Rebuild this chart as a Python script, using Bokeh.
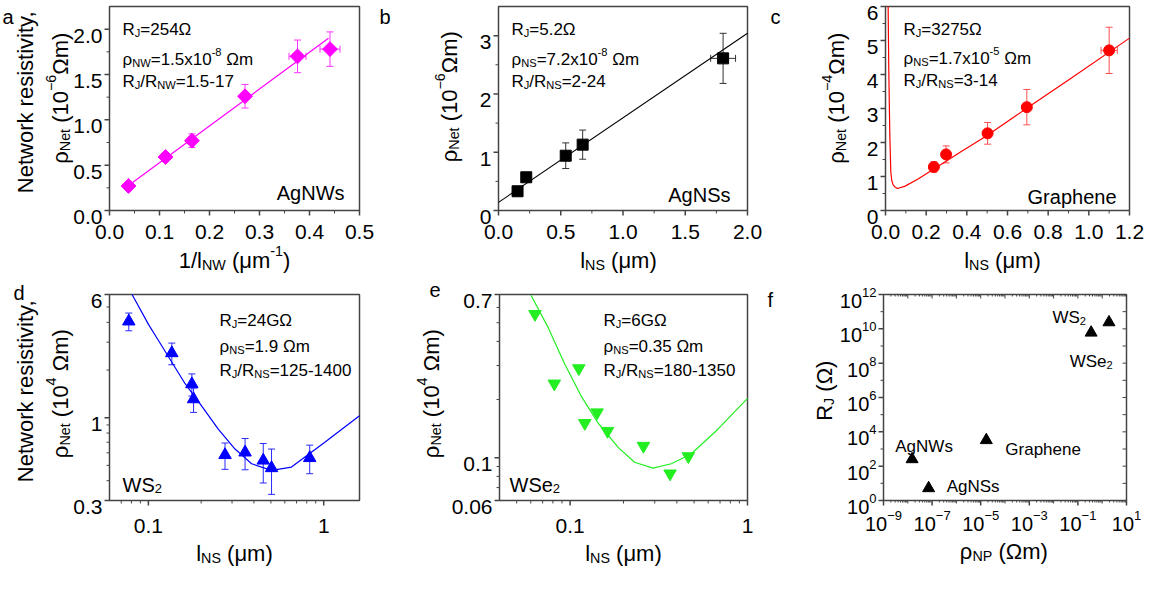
import math
from bokeh.plotting import figure
from bokeh.models import Label, Whisker, TeeHead, ColumnDataSource, Range1d
from bokeh.layouts import row, column
from bokeh.embed import file_html
from bokeh.resources import INLINE

FONT = "Liberation Sans"
AX = "#444444"

# ---------------- data ----------------
# (a) AgNWs
a_x = [0.038, 0.112, 0.165, 0.271, 0.376, 0.441]
a_y = [0.27, 0.59, 0.77, 1.26, 1.70, 1.78]
a_yerr = [0.02, 0.05, 0.075, 0.13, 0.18, 0.19]
a_xerr = [0.0, 0.0, 0.0, 0.005, 0.017, 0.02]
a_fit_x = [0.038, 0.438]
a_fit_y = [0.275, 1.90]

# (b) AgNSs
b_x = [0.153, 0.223, 0.54, 0.676, 1.804]
b_y = [0.33, 0.57, 0.94, 1.13, 2.61]
b_yerr = [0.03, 0.05, 0.22, 0.25, 0.43]
b_xerr = [0.0, 0.0, 0.0, 0.0, 0.1]
b_fit_x = [0.0, 2.0]
b_fit_y = [0.139, 3.04]

# (c) Graphene
c_x = [0.238, 0.298, 0.502, 0.695, 1.10]
c_y = [1.28, 1.65, 2.27, 3.04, 4.71]
c_yerr = [0.15, 0.25, 0.32, 0.52, 0.68]
c_xerr = [0.0, 0.0, 0.0, 0.0, 0.04]
c_fit_x = [0.013, 0.016, 0.021, 0.026, 0.031, 0.037, 0.045, 0.058, 0.094, 0.158,
           0.238, 0.367, 0.496, 0.7, 0.9, 1.2]
c_fit_y = [6.0, 4.19, 2.29, 1.14, 0.874, 0.76, 0.70, 0.646, 0.71, 0.92,
           1.22, 1.71, 2.19, 3.03, 3.84, 5.07]

# (d) WS2
d_x = [0.0773, 0.136, 0.177, 0.181, 0.2735, 0.356, 0.452, 0.504, 0.832]
d_y = [4.06, 2.56, 1.63, 1.31, 0.582, 0.604, 0.537, 0.481, 0.557]
d_yerr = [0.52, 0.40, 0.26, 0.23, 0.11, 0.135, 0.15, 0.153, 0.114]
d_fit_x = [0.0807, 0.1003, 0.1146, 0.162, 0.202, 0.251, 0.312, 0.388, 0.504, 0.655, 1.01, 1.6]
d_fit_y = [6.0, 3.87, 3.05, 1.64, 1.18, 0.843, 0.634, 0.512, 0.465, 0.488, 0.697, 1.03]

# (e) WSe2
e_x = [0.0634, 0.0815, 0.112, 0.121, 0.142, 0.1625, 0.259, 0.366, 0.464]
e_y = [0.554, 0.2417, 0.290, 0.151, 0.1714, 0.1374, 0.115, 0.0827, 0.1016]
e_fit_x = [0.0602, 0.0754, 0.0934, 0.116, 0.144, 0.1865, 0.231, 0.293, 0.372, 0.481, 0.679, 1.0]
e_fit_y = [0.694, 0.470, 0.305, 0.207, 0.151, 0.113, 0.0947, 0.0883, 0.093, 0.1045, 0.140, 0.203]

# (f) summary
f_names = ["AgNWs", "AgNSs", "Graphene", "WSe2", "WS2"]
f_rho = [1.5e-8, 7.2e-8, 1.7e-5, 0.35, 1.9]
f_rj = [254, 5.2, 3275, 6e9, 24e9]

# ---------------- ticks ----------------
a_xt = [0, 0.1, 0.2, 0.3, 0.4, 0.5]
a_xt_lab = ["0.0", "0.1", "0.2", "0.3", "0.4", "0.5"]
a_xm = [0.05, 0.15, 0.25, 0.35, 0.45]
a_yt = [0, 0.5, 1.0, 1.5, 2.0]
a_yt_lab = ["0.0", "0.5", "1.0", "1.5", "2.0"]
a_ym = [0.25, 0.75, 1.25, 1.75]

b_xt = [0, 0.5, 1.0, 1.5, 2.0]
b_xt_lab = ["0.0", "0.5", "1.0", "1.5", "2.0"]
b_xm = [0.25, 0.75, 1.25, 1.75]
b_yt = [0, 1, 2, 3]
b_yt_lab = ["0", "1", "2", "3"]
b_ym = [0.5, 1.5, 2.5]

c_xt = [0, 0.2, 0.4, 0.6, 0.8, 1.0, 1.2]
c_xt_lab = ["0.0", "0.2", "0.4", "0.6", "0.8", "1.0", "1.2"]
c_xm = [0.1, 0.3, 0.5, 0.7, 0.9, 1.1]
c_yt = [0, 1, 2, 3, 4, 5, 6]
c_yt_lab = ["0", "1", "2", "3", "4", "5", "6"]
c_ym = [0.5, 1.5, 2.5, 3.5, 4.5, 5.5]

d_xt = [0.1, 1]
d_xt_lab = ["0.1", "1"]
d_xm = [0.07, 0.08, 0.09, 0.2, 0.3, 0.4, 0.5, 0.6, 0.7, 0.8, 0.9]
d_yt = [0.3, 1, 6]
d_yt_lab = ["0.3", "1", "6"]
d_ym = [0.4, 0.5, 0.6, 0.7, 0.8, 0.9, 2, 3, 4, 5]

e_xt = [0.1, 1]
e_xt_lab = ["0.1", "1"]
e_xm = [0.05, 0.06, 0.07, 0.08, 0.09, 0.2, 0.3, 0.4, 0.5, 0.6, 0.7, 0.8, 0.9]
e_yt = [0.06, 0.1, 0.7]
e_yt_lab = ["0.06", "0.1", "0.7"]
e_ym = [0.07, 0.08, 0.09, 0.2, 0.3, 0.4, 0.5, 0.6]

f_xt_exp = [-9, -7, -5, -3, -1, 1]
f_xdec_exp = [-8, -6, -4, -2, 0]
f_yt_exp = [0, 2, 4, 6, 8, 10, 12]
f_ydec_exp = [1, 3, 5, 7, 9, 11]

# ---------------- helpers ----------------
CW = {' ': 278, '(': 333, ')': 333, ',': 278, '-': 333, '.': 278, '/': 278, '=': 584,
      '\u2212': 584, 'x': 500, 'A': 667, 'G': 778, 'J': 500, 'N': 722, 'P': 667, 'R': 722,
      'S': 667, 'W': 944, 'a': 556, 'b': 556, 'c': 500, 'd': 556, 'e': 556, 'f': 278,
      'g': 556, 'h': 556, 'i': 222, 'k': 500, 'l': 222, 'm': 833, 'n': 556, 'o': 556,
      'p': 556, 'r': 333, 's': 500, 't': 278, 'v': 500, 'w': 722, 'y': 500,
      '\u03c1': 577, '\u03a9': 768, '\u03bc': 577}
for _d in "0123456789":
    CW[_d] = 556

SC = 0.65


def tw(s, size):
    return sum(CW.get(ch, 556) for ch in s) * size / 1000.0


def rich(p, x, y, parts, size, color="black", angle=0.0, align="left", dx=0.0, dy=0.0):
    sizes = [size * SC if m != "n" else size for _, m in parts]
    ws = [tw(t, s) for (t, _), s in zip(parts, sizes)]
    total = sum(ws)
    pos = {"left": 0.0, "center": -total / 2.0, "right": -total}[align]
    for (t, m), w, fs in zip(parts, ws, sizes):
        sh = {"n": 0.0, "sub": -0.2 * size, "sup": 0.42 * size}[m]
        lead = len(t) - len(t.lstrip(" "))
        txt = t.strip(" ")
        off = pos + tw(" " * lead, fs)
        if angle == 0:
            xo, yo = dx + off, dy + sh
        else:
            xo, yo = dx - sh, dy + off
        if txt:
            p.add_layout(Label(x=x, y=y, x_offset=xo, y_offset=yo, text=txt, angle=angle,
                               text_font=FONT, text_font_size=f"{fs:.1f}px", text_color=color,
                               text_align="left", text_baseline="alphabetic"))
        pos += w


class G:
    pass


def panel(W, H, L, T, fw, fh, xr, yr, xlog=False, ylog=False):
    def ext(a, b, lo_px, span_px, hi_px, log):
        if log:
            a, b = math.log10(a), math.log10(b)
        k = (b - a) / span_px
        s, e = a - lo_px * k, b + hi_px * k
        if log:
            return 10 ** s, 10 ** e, k
        return s, e, k

    xs, xe, kx = ext(xr[0], xr[1], L, fw, W - L - fw, xlog)
    ys, ye, ky = ext(yr[0], yr[1], H - T - fh, fh, T, ylog)
    p = figure(width=W, height=H, x_range=Range1d(xs, xe), y_range=Range1d(ys, ye),
               x_axis_type="log" if xlog else "linear",
               y_axis_type="log" if ylog else "linear",
               x_axis_location=None, y_axis_location=None,
               output_backend="svg", toolbar_location=None, min_border=0)
    p.grid.visible = False
    p.outline_line_color = None
    p.background_fill_color = "white"
    p.border_fill_color = "white"
    g = G()
    g.p, g.x0, g.x1, g.y0, g.y1 = p, xr[0], xr[1], yr[0], yr[1]
    g.xlog, g.ylog, g.kx, g.ky, g.fw = xlog, ylog, kx, ky, fw
    p.quad(left=[xr[0]], right=[xr[1]], bottom=[yr[0]], top=[yr[1]],
           fill_color=None, line_color=AX, line_width=1.5)
    return g


def shx(g, x, px):
    return x * 10 ** (px * g.kx) if g.xlog else x + px * g.kx


def shy(g, y, px):
    return y * 10 ** (px * g.ky) if g.ylog else y + px * g.ky


def xticks(g, vals, length, where="bottom", inward=False, lw=1.5):
    if not vals:
        return
    base = g.y0 if where == "bottom" else g.y1
    d = -length if where == "bottom" else length
    if inward:
        d = -d
    end = shy(g, base, d)
    n = len(vals)
    g.p.segment(x0=vals, y0=[base] * n, x1=vals, y1=[end] * n, line_color=AX, line_width=lw)


def yticks(g, vals, length, where="left", inward=False, lw=1.5):
    if not vals:
        return
    base = g.x0 if where == "left" else g.x1
    d = -length if where == "left" else length
    if inward:
        d = -d
    end = shx(g, base, d)
    n = len(vals)
    g.p.segment(x0=[base] * n, y0=vals, x1=[end] * n, y1=vals, line_color=AX, line_width=lw)


def axes(g, xt, xlab, xm, yt, ylab, ym, xdy=-21.0, ydy=-6.5, size=21):
    xticks(g, xt, 5)
    xticks(g, xm, 3, lw=1)
    yticks(g, yt, 5)
    yticks(g, ym, 3, lw=1)
    for t, lab in zip(xt, xlab):
        parts = lab if isinstance(lab, list) else [(lab, "n")]
        rich(g.p, t, g.y0, parts, size, align="center", dy=xdy)
    for t, lab in zip(yt, ylab):
        parts = lab if isinstance(lab, list) else [(lab, "n")]
        rich(g.p, g.x0, t, parts, size, align="right", dx=-7, dy=ydy)


def errbars(p, xs, ys, errs, color, dim="height"):
    idx = [i for i, e in enumerate(errs) if e > 0]
    if dim == "height":
        base = [xs[i] for i in idx]
        lo = [ys[i] - errs[i] for i in idx]
        up = [ys[i] + errs[i] for i in idx]
    else:
        base = [ys[i] for i in idx]
        lo = [xs[i] - errs[i] for i in idx]
        up = [xs[i] + errs[i] for i in idx]
    src = ColumnDataSource(dict(base=base, lo=lo, up=up))
    w = Whisker(source=src, base="base", lower="lo", upper="up", dimension=dim,
                line_color=color, line_width=1,
                lower_head=TeeHead(size=7, line_color=color, line_width=1),
                upper_head=TeeHead(size=7, line_color=color, line_width=1))
    p.add_layout(w)


def sub_parts(sym, sub, rest):
    return [(sym, "n"), (sub, "sub"), (rest, "n")]


MAG, MAG_E = "#FF00FF", "#FF33FF"
RED, RED_E = "#FF0000", "#FF5050"
BLUE, BLUE_E = "#0000FF", "#2A2AFF"
GREEN = "#22EE22"
BLK_E = "#333333"
PI2 = math.pi / 2

NETRES = [("Network resistivity,", "n")]
RHO6 = [("\u03c1", "n"), ("Net", "sub"), (" (10", "n"), ("\u22126", "sup"), ("\u03a9m)", "n")]
RHO4 = [("\u03c1", "n"), ("Net", "sub"), (" (10", "n"), ("\u22124", "sup"), ("\u03a9m)", "n")]
RHO4b = [("\u03c1", "n"), ("Net", "sub"), (" (10", "n"), ("4", "sup"), (" \u03a9m)", "n")]
LNS = [("l", "n"), ("NS", "sub"), (" (\u03bcm)", "n")]

TOP_H, BOT_H = 274, 294
TOP_T, TOP_FH = 6, 204
BOT_T, BOT_FH = 20, 206
TOP_XL, BOT_XL = -50, -53

# ---------------- (a) ----------------
ga = panel(377, TOP_H, 109, TOP_T, 250, TOP_FH, (0, 0.5), (0, 2.25))
fa = ga.p
axes(ga, a_xt, a_xt_lab, a_xm, a_yt, a_yt_lab, a_ym)
fa.line(a_fit_x, a_fit_y, line_color=MAG, line_width=1.2)
errbars(fa, a_x, a_y, a_yerr, MAG_E, "height")
errbars(fa, a_x, a_y, a_xerr, MAG_E, "width")
fa.scatter(a_x, a_y, marker="square", angle=math.pi / 4, size=10.5, fill_color=MAG, line_color=MAG)
rich(fa, 0, 2.25, [("a", "n")], 20, dx=-107, dy=-10)
rich(fa, 0, 2.25, sub_parts("R", "J", "=254\u03a9"), 17, dx=13, dy=-23)
rich(fa, 0, 2.25, [("\u03c1", "n"), ("NW", "sub"), ("=1.5x10", "n"), ("-8", "sup"), (" \u03a9m", "n")], 17, dx=13, dy=-53)
rich(fa, 0, 2.25, [("R", "n"), ("J", "sub"), ("/R", "n"), ("NW", "sub"), ("=1.5-17", "n")], 17, dx=13, dy=-75)
rich(fa, 0.5, 0, [("AgNWs", "n")], 20, align="right", dx=-15, dy=18)
rich(fa, 0, 0, NETRES, 22, angle=PI2, align="center", dx=-84, dy=109)
rich(fa, 0, 0, RHO6, 22, angle=PI2, align="center", dx=-49, dy=112.5)
rich(fa, 0, 0, [("1/l", "n"), ("NW", "sub"), (" (\u03bcm", "n"), ("-1", "sup"), (")", "n")], 22,
     align="center", dx=ga.fw / 2, dy=TOP_XL)

# ---------------- (b) ----------------
gb = panel(387, TOP_H, 121, TOP_T, 249, TOP_FH, (0, 2.0), (0, 3.5))
fb = gb.p
axes(gb, b_xt, b_xt_lab, b_xm, b_yt, b_yt_lab, b_ym)
fb.line(b_fit_x, b_fit_y, line_color="black", line_width=1.1)
errbars(fb, b_x, b_y, b_yerr, BLK_E, "height")
errbars(fb, b_x, b_y, b_xerr, BLK_E, "width")
fb.scatter(b_x, b_y, marker="square", size=11, fill_color="black", line_color="black")
rich(fb, 0, 3.5, [("b", "n")], 20, dx=-119, dy=-10)
rich(fb, 0, 3.5, sub_parts("R", "J", "=5.2\u03a9"), 17, dx=13, dy=-23)
rich(fb, 0, 3.5, [("\u03c1", "n"), ("NS", "sub"), ("=7.2x10", "n"), ("-8", "sup"), (" \u03a9m", "n")], 17, dx=13, dy=-53)
rich(fb, 0, 3.5, [("R", "n"), ("J", "sub"), ("/R", "n"), ("NS", "sub"), ("=2-24", "n")], 17, dx=13, dy=-75)
rich(fb, 2.0, 0, [("AgNSs", "n")], 20, align="right", dx=-17, dy=16)
rich(fb, 0, 0, RHO6, 22, angle=PI2, align="center", dx=-49, dy=114)
rich(fb, 0, 0, LNS, 22, align="center", dx=gb.fw / 2 - 4.5, dy=TOP_XL)

# ---------------- (c) ----------------
gc = panel(382, TOP_H, 121, TOP_T, 244, TOP_FH, (0, 1.2), (0, 6))
fc = gc.p
axes(gc, c_xt, c_xt_lab, c_xm, c_yt, c_yt_lab, c_ym)
fc.line(c_fit_x, c_fit_y, line_color=RED, line_width=1.2)
errbars(fc, c_x, c_y, c_yerr, RED_E, "height")
errbars(fc, c_x, c_y, c_xerr, RED_E, "width")
fc.scatter(c_x, c_y, marker="circle", size=11, fill_color=RED, line_color=RED)
rich(fc, 0, 6, [("c", "n")], 20, dx=-115, dy=-10)
rich(fc, 0, 6, sub_parts("R", "J", "=3275\u03a9"), 17, dx=18, dy=-23)
rich(fc, 0, 6, [("\u03c1", "n"), ("NS", "sub"), ("=1.7x10", "n"), ("-5", "sup"), (" \u03a9m", "n")], 17, dx=18, dy=-52)
rich(fc, 0, 6, [("R", "n"), ("J", "sub"), ("/R", "n"), ("NS", "sub"), ("=3-14", "n")], 17, dx=18, dy=-74)
rich(fc, 1.2, 0, [("Graphene", "n")], 20, align="right", dx=-13, dy=14)
rich(fc, 0, 0, RHO4, 22, angle=PI2, align="center", dx=-49, dy=112.5)
rich(fc, 0, 0, LNS, 22, align="center", dx=gc.fw / 2 - 5, dy=TOP_XL)

# ---------------- (d) ----------------
gd = panel(377, BOT_H, 109, BOT_T, 250, BOT_FH, (0.06, 1.6), (0.3, 6), True, True)
fd = gd.p
axes(gd, d_xt, d_xt_lab, d_xm, d_yt, d_yt_lab, d_ym, xdy=-25.5)
fd.line(d_fit_x, d_fit_y, line_color=BLUE, line_width=1.2)
errbars(fd, d_x, d_y, d_yerr, BLUE_E, "height")
fd.scatter(d_x, d_y, marker="triangle", size=12.5, fill_color=BLUE, line_color=BLUE)
rich(fd, 0.06, 6, [("d", "n")], 20, dx=-96, dy=2)
rich(fd, 0.06, 6, sub_parts("R", "J", "=24G\u03a9"), 17, dx=110, dy=-25.7)
rich(fd, 0.06, 6, sub_parts("\u03c1", "NS", "=1.9 \u03a9m"), 17, dx=110, dy=-52)
rich(fd, 0.06, 6, [("R", "n"), ("J", "sub"), ("/R", "n"), ("NS", "sub"), ("=125-1400", "n")], 17, dx=110, dy=-75.7)
rich(fd, 0.06, 0.3, [("WS", "n"), ("2", "sub")], 20, dx=13, dy=16)
rich(fd, 0.06, 0.3, NETRES, 22, angle=PI2, align="center", dx=-84, dy=110)
rich(fd, 0.06, 0.3, RHO4b, 22, angle=PI2, align="center", dx=-49, dy=107)
rich(fd, 0.06, 0.3, LNS, 22, align="center", dx=gd.fw / 2, dy=BOT_XL)

# ---------------- (e) ----------------
ge = panel(387, BOT_H, 122, BOT_T, 248, BOT_FH, (0.04, 1.0), (0.06, 0.7), True, True)
fe = ge.p
axes(ge, e_xt, e_xt_lab, e_xm, e_yt, e_yt_lab, e_ym, xdy=-25.5)
fe.line(e_fit_x, e_fit_y, line_color=GREEN, line_width=1.2)
fe.scatter(e_x, e_y, marker="inverted_triangle", size=12.5, fill_color=GREEN, line_color=GREEN)
rich(fe, 0.04, 0.7, [("e", "n")], 20, dx=-70, dy=5)
rich(fe, 0.04, 0.7, sub_parts("R", "J", "=6G\u03a9"), 17, dx=104, dy=-25.7)
rich(fe, 0.04, 0.7, sub_parts("\u03c1", "NS", "=0.35 \u03a9m"), 17, dx=104, dy=-52)
rich(fe, 0.04, 0.7, [("R", "n"), ("J", "sub"), ("/R", "n"), ("NS", "sub"), ("=180-1350", "n")], 17, dx=104, dy=-75.7)
rich(fe, 0.04, 0.06, [("WSe", "n"), ("2", "sub")], 20, dx=10, dy=16)
rich(fe, 0.04, 0.06, RHO4b, 22, angle=PI2, align="center", dx=-68, dy=107)
rich(fe, 0.04, 0.06, LNS, 22, align="center", dx=ge.fw / 2, dy=BOT_XL)

# ---------------- (f) ----------------
gf = panel(382, BOT_H, 119, BOT_T, 243, BOT_FH, (1e-9, 10), (1, 1e12), True, True)
ff = gf.p
fx_major = [10.0 ** k for k in f_xt_exp]
fx_dec = [10.0 ** k for k in f_xdec_exp]
fx_minor = [m * 10.0 ** k for k in range(-9, 1) for m in range(2, 10)]
fy_major = [10.0 ** k for k in f_yt_exp]
fy_dec = [10.0 ** k for k in f_ydec_exp]
f_xlab = [[("10", "n"), (("\u2212" if k < 0 else "") + str(abs(k)), "sup")] for k in f_xt_exp]
f_ylab = [[("10", "n"), (str(k), "sup")] for k in f_yt_exp]
axes(gf, fx_major, f_xlab, fx_dec, fy_major, f_ylab, fy_dec, xdy=-23, ydy=-6.5, size=20)
xticks(gf, fx_minor, 2, lw=1)
xticks(gf, fx_major + fx_dec, 4, where="top", inward=True, lw=1)
xticks(gf, fx_minor, 2, where="top", inward=True, lw=1)
yticks(gf, fy_major + fy_dec, 4, where="right", inward=True, lw=1)
ff.scatter(f_rho, f_rj, marker="triangle", size=12, fill_color="black", line_color="black")
rich(ff, 1e-9, 1e12, [("f", "n")], 20, dx=-116, dy=-5)
f_label_parts = [[("AgNWs", "n")], [("AgNSs", "n")], [("Graphene", "n")],
                 [("WSe", "n"), ("2", "sub")], [("WS", "n"), ("2", "sub")]]
f_label_pos = [("center", 12, 13), ("left", 18, 1.6), ("left", 19, -9.3),
               ("center", 0, -28.7), ("right", -23, 5)]
for xv, yv, parts, (al, ddx, ddy) in zip(f_rho, f_rj, f_label_parts, f_label_pos):
    rich(ff, xv, yv, parts, 17, align=al, dx=ddx, dy=ddy)
rich(ff, 1e-9, 1, [("R", "n"), ("J", "sub"), (" (\u03a9)", "n")], 22, angle=PI2, align="center", dx=-59, dy=110)
rich(ff, 1e-9, 1, [("\u03c1", "n"), ("NP", "sub"), (" (\u03a9m)", "n")], 22, align="center", dx=gf.fw / 2 - 1, dy=BOT_XL + 2)

layout = column(row(fa, fb, fc), row(fd, fe, ff))
open("out.html", "w").write(file_html(layout, INLINE))
